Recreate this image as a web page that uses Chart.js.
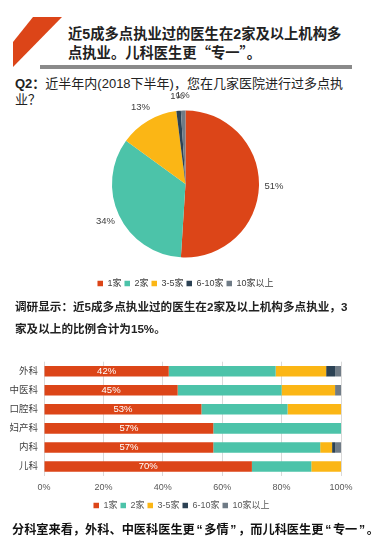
<!DOCTYPE html>
<html>
<head>
<meta charset="utf-8">
<script src="https://cdn.jsdelivr.net/npm/chart.js@4.4.0/dist/chart.umd.min.js"></script>
<style>
    body { margin: 0; background: #fff; width: 375px; height: 551px; position: relative; overflow: hidden;
           font-family: 'Liberation Sans', Arial, 'Noto Sans CJK SC', sans-serif; color: #1a1a1a; }
    .abs { position: absolute; }
    #flag { left: 0; top: 0; width: 70px; height: 70px; }
    #rule { left: 40px; top: 65px; width: 312px; height: 4px; background: linear-gradient(#8a8a8a 0 40%, #c8c8c8 40% 60%, #8a8a8a 60% 100%); }
    #title { left: 68px; top: 25px; font-size: 14.3px; line-height: 18px; font-weight: bold; color: #222; white-space: nowrap; }
    #title .cq { font-family: 'Noto Sans CJK SC', sans-serif; }
    #q2 { left: 15px; top: 76px; font-size: 13px; line-height: 16px; color: #222; white-space: nowrap; }
    #note { left: 15px; top: 296px; font-size: 11.6px; line-height: 22px; font-weight: bold; color: #222; white-space: nowrap; }
    #summary { left: 12px; top: 521px; font-size: 12.2px; line-height: 18px; font-weight: bold; color: #111; white-space: nowrap; }
    #summary .cq { margin: 0 1.7px; }
    #pieBox { left: 0; top: 92px; width: 375px; height: 210px; }
    #barBox { left: 0; top: 350px; width: 375px; height: 170px; }
</style>
</head>
<body>
<svg id="flag" class="abs" viewBox="0 0 70 70"><polygon points="33,17 62,17 13,67 13,42" fill="#dc4518"/></svg>
<div id="rule" class="abs"></div>
<div id="title" class="abs">近5成多点执业过的医生在2家及以上机构多<br>点执业。儿科医生更<span class="cq">“</span>专一<span class="cq">”</span>。</div>
<div id="q2" class="abs"><b>Q2：</b>近半年内(2018下半年)，您在几家医院进行过多点执<br>业？</div>
<div id="pieBox" class="abs"><canvas id="pie"></canvas></div>
<div id="note" class="abs">调研显示：近5成多点执业过的医生在2家及以上机构多点执业，3<br>家及以上的比例合计为15%。</div>
<div id="barBox" class="abs"><canvas id="bar"></canvas></div>
<div id="summary" class="abs">分科室来看，外科、中医科医生更<span class="cq">“</span>多情<span class="cq">”</span>，而儿科医生更<span class="cq">“</span>专一<span class="cq">”</span>。</div>

<script>
// number of hospitals a doctor practised at (pie)
const groups = ['1家', '2家', '3-5家', '6-10家', '10家以上'];
const pieValues = [51, 34, 13, 1, 1];

// by department (stacked bars, %)
const departments = ['外科', '中医科', '口腔科', '妇产科', '内科', '儿科'];
const oneSite = [42, 45, 53, 57, 57, 70];
const twoSites = [36, 35, 29, 43, 36, 20];
const threeToFive = [17, 18, 18, 0, 4, 10];
const sixToTen = [3, 0, 0, 0, 1, 0];
const tenPlus = [2, 2, 0, 0, 2, 0];
const xTicks = [0, 20, 40, 60, 80, 100];

const palette = ['#dc4518', '#4cc3a9', '#fbb615', '#2c4254', '#6f7b86'];
const FONT = "'Liberation Sans', Arial, 'Noto Sans CJK SC', sans-serif";

Chart.defaults.font.family = FONT;
Chart.defaults.animation = false;

// percent labels outside the pie slices
const pieLabelPlugin = {
    id: 'pieLabels',
    afterDatasetsDraw(chart) {
        const ctx = chart.ctx;
        const meta = chart.getDatasetMeta(0);
        ctx.save();
        ctx.font = '9.5px ' + FONT;
        ctx.fillStyle = '#404040';
        ctx.textAlign = 'center';
        ctx.textBaseline = 'middle';
        meta.data.forEach((arc, i) => {
            const p = arc.getProps(['x', 'y', 'startAngle', 'endAngle', 'outerRadius'], true);
            const mid = (p.startAngle + p.endAngle) / 2;
            const r = p.outerRadius + 15;
            ctx.fillText(pieValues[i] + '%', p.x + Math.cos(mid) * r, p.y + Math.sin(mid) * r);
        });
        ctx.restore();
    }
};

new Chart(document.getElementById('pie'), {
    type: 'pie',
    data: {
        labels: groups,
        datasets: [{
            data: pieValues,
            backgroundColor: palette,
            borderWidth: 0
        }]
    },
    options: {
        responsive: true,
        maintainAspectRatio: false,
        radius: 73.5,
        layout: { padding: { top: 0, right: 4, bottom: 4 } },
        plugins: {
            legend: {
                position: 'bottom',
                labels: { boxWidth: 5.5, boxHeight: 5.5, padding: 3, color: '#404040', font: { size: 9 } }
            },
            tooltip: { enabled: false }
        }
    },
    plugins: [pieLabelPlugin]
});

// white value labels inside the first segment
const barLabelPlugin = {
    id: 'barLabels',
    afterDatasetsDraw(chart) {
        const ctx = chart.ctx;
        const meta = chart.getDatasetMeta(0);
        ctx.save();
        ctx.font = '9.5px ' + FONT;
        ctx.fillStyle = '#ffffff';
        ctx.textAlign = 'center';
        ctx.textBaseline = 'middle';
        meta.data.forEach((bar, i) => {
            const p = bar.getProps(['x', 'y', 'base'], true);
            ctx.fillText(oneSite[i] + '%', (p.x + p.base) / 2, p.y);
        });
        ctx.restore();
    }
};

const barSeries = [oneSite, twoSites, threeToFive, sixToTen, tenPlus];

new Chart(document.getElementById('bar'), {
    type: 'bar',
    data: {
        labels: departments,
        datasets: barSeries.map((values, i) => ({
            label: groups[i],
            data: values,
            backgroundColor: palette[i],
            borderWidth: 0,
            barPercentage: 0.555,
            categoryPercentage: 1
        }))
    },
    options: {
        indexAxis: 'y',
        responsive: true,
        maintainAspectRatio: false,
        layout: { padding: { top: 10.6, left: 22, right: 34, bottom: 0 } },
        scales: {
            x: {
                stacked: true,
                min: 0,
                max: 100,
                afterBuildTicks: axis => { axis.ticks = xTicks.map(v => ({ value: v })); },
                afterFit: axis => { axis.height = 22; },
                ticks: { padding: 6, color: '#595959', font: { size: 9 }, callback: v => v + '%' },
                grid: { color: '#d9d9d9', drawTicks: false },
                border: { display: false }
            },
            y: {
                stacked: true,
                afterFit: axis => {
                    axis.width = 22;
                    // the axis box is narrow (legend centring), so let labels spill left
                    axis._computeLabelArea = () => undefined;
                },
                ticks: { padding: 6, color: '#404040', font: { size: 9.5 } },
                grid: { display: false, drawTicks: false },
                border: { display: false }
            }
        },
        plugins: {
            legend: {
                position: 'bottom',
                labels: { boxWidth: 5.5, boxHeight: 5.5, padding: 3, color: '#595959', font: { size: 9 } }
            },
            tooltip: { enabled: false }
        }
    },
    plugins: [barLabelPlugin]
});
</script>
</body>
</html>
